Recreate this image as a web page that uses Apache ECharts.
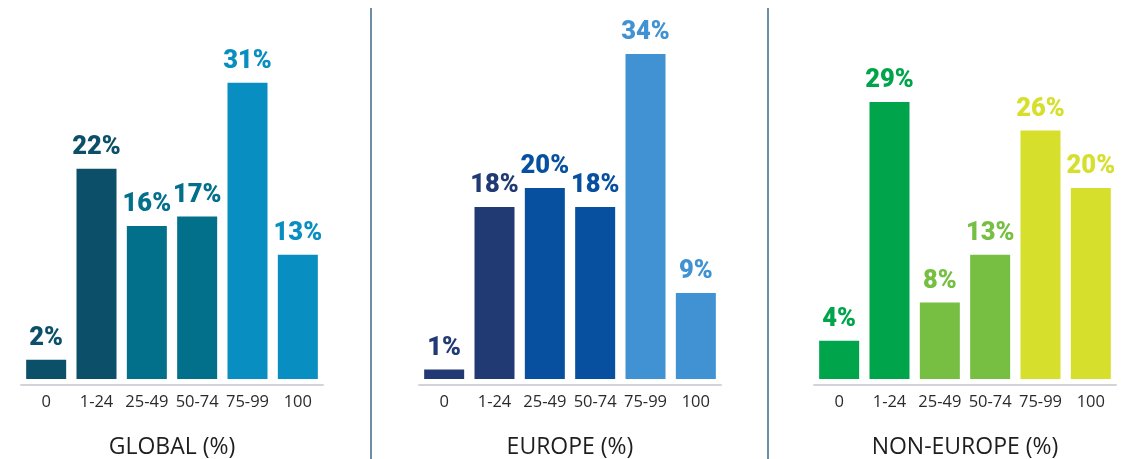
<!DOCTYPE html>
<html>
<head>
<meta charset="utf-8">
<script src="https://cdn.jsdelivr.net/npm/echarts@6/dist/echarts.min.js"></script>
<style>
html,body{margin:0;padding:0;background:#fff;}
#chart{width:1128px;height:459px;}
</style>
</head>
<body>
<div id="chart"></div>
<script>
var categories = ['0', '1-24', '25-49', '50-74', '75-99', '100'];
var panelTitles = ['GLOBAL (%)', 'EUROPE (%)', 'NON-EUROPE (%)'];
var globalValues = [2, 22, 16, 17, 31, 13];
var europeValues = [1, 18, 20, 18, 34, 9];
var nonEuropeValues = [4, 29, 8, 13, 26, 20];
var globalColors = ['#0b5068', '#0b5068', '#026f8b', '#026f8b', '#088ec0', '#088ec0'];
var europeColors = ['#223a73', '#223a73', '#07509f', '#07509f', '#4192d2', '#4192d2'];
var nonEuropeColors = ['#00a44b', '#00a44b', '#76bf43', '#76bf43', '#d6e02c', '#d6e02c'];

var panels = [
  {values: globalValues, colors: globalColors, left: 21},
  {values: europeValues, colors: europeColors, left: 419},
  {values: nonEuropeValues, colors: nonEuropeColors, left: 814}
];
var labelFont = 'Roboto, "Open Sans", sans-serif';
var textFont = '"Open Sans", "Noto Sans", sans-serif';

var grids = [], xAxes = [], yAxes = [], series = [];
panels.forEach(function (p, i) {
  grids.push({left: p.left, width: 302, top: 35, bottom: 74, containLabel: false, outerBoundsMode: 'none'});
  xAxes.push({
    type: 'category', gridIndex: i, data: categories,
    axisLine: {onZero: false, lineStyle: {color: '#d3d3da', width: 2}},
    axisTick: {show: false},
    axisLabel: {color: '#2a2a2a', fontSize: 16.5, fontFamily: textFont, margin: 9, interval: 0},
    name: panelTitles[i], nameLocation: 'middle', nameGap: 51,
    nameTextStyle: {color: '#1e1e1e', fontSize: 23, fontFamily: textFont}
  });
  yAxes.push({
    type: 'value', gridIndex: i, min: -0.63, max: 36,
    show: false, splitLine: {show: false}
  });
  series.push({
    type: 'bar', xAxisIndex: i, yAxisIndex: i, barWidth: 40,
    data: p.values.map(function (v, j) {
      return {value: v, itemStyle: {color: p.colors[j]},
        label: {color: p.colors[j]}};
    }),
    label: {
      show: true, position: 'top', distance: 8,
      formatter: '{c}%', fontSize: 25.5, fontWeight: 900, fontFamily: labelFont
    },
    silent: true, animation: false
  });
});

var chart = echarts.init(document.getElementById('chart'));
chart.setOption({
  backgroundColor: '#ffffff',
  animation: false,
  grid: grids, xAxis: xAxes, yAxis: yAxes, series: series,
  graphic: [
    {type: 'line', shape: {x1: 371, y1: 8, x2: 371, y2: 459}, style: {stroke: '#6e8ea5', lineWidth: 2}},
    {type: 'line', shape: {x1: 768, y1: 8, x2: 768, y2: 459}, style: {stroke: '#6e8ea5', lineWidth: 2}}
  ]
});
</script>
</body>
</html>
